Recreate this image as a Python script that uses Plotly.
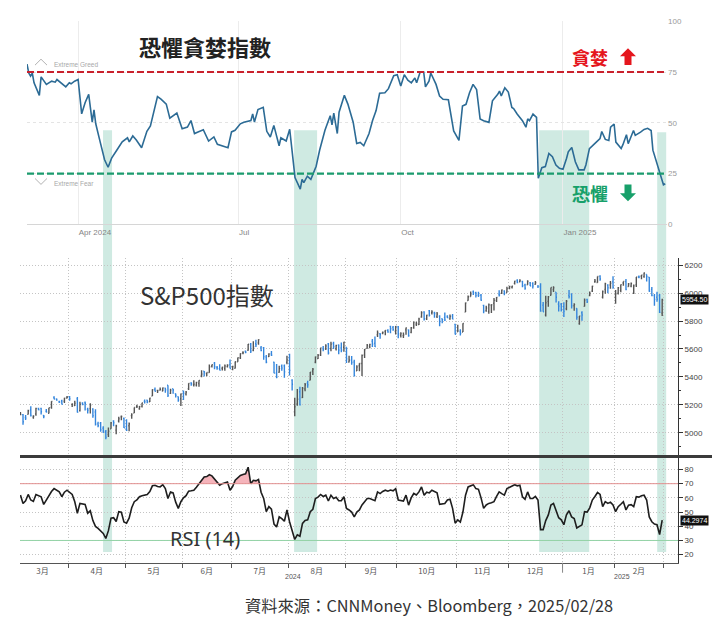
import numpy as np
import pandas as pd
import plotly.graph_objects as go

W, H = 725, 628
def px(x): return x / W
def py(y): return 1 - y / H

# ---------------- CNN Fear & Greed index ----------------
fg_dates = [
 "2024-03-03","2024-03-04","2024-03-05","2024-03-06","2024-03-07","2024-03-10","2024-03-11","2024-03-14",
 "2024-03-17","2024-03-19","2024-03-20","2024-03-22","2024-03-25","2024-03-27","2024-03-28","2024-03-30",
 "2024-04-01","2024-04-03","2024-04-05","2024-04-07","2024-04-09","2024-04-10","2024-04-11","2024-04-13",
 "2024-04-16","2024-04-18","2024-04-20","2024-04-23","2024-04-26","2024-04-29","2024-04-30","2024-05-02",
 "2024-05-04","2024-05-07","2024-05-10","2024-05-12","2024-05-16","2024-05-18","2024-05-21","2024-05-23",
 "2024-05-25","2024-05-27","2024-05-30","2024-06-02","2024-06-04","2024-06-06","2024-06-08","2024-06-11",
 "2024-06-14","2024-06-17","2024-06-19","2024-06-22","2024-06-25","2024-06-27","2024-06-29","2024-07-02",
 "2024-07-04","2024-07-08","2024-07-09","2024-07-10","2024-07-12","2024-07-15","2024-07-17","2024-07-19",
 "2024-07-21","2024-07-24","2024-07-25","2024-07-28","2024-07-30","2024-08-01","2024-08-02","2024-08-05",
 "2024-08-06","2024-08-07","2024-08-09","2024-08-11","2024-08-14","2024-08-16","2024-08-19","2024-08-21",
 "2024-08-22","2024-08-23","2024-08-24","2024-08-26","2024-08-27","2024-08-30","2024-09-01","2024-09-04",
 "2024-09-06","2024-09-08","2024-09-10","2024-09-13","2024-09-15","2024-09-17","2024-09-19","2024-09-22",
 "2024-09-24","2024-09-27","2024-09-29","2024-10-01","2024-10-03","2024-10-05","2024-10-07","2024-10-09",
 "2024-10-10","2024-10-12","2024-10-14","2024-10-15","2024-10-17","2024-10-18","2024-10-21","2024-10-23",
 "2024-10-25","2024-10-28","2024-10-31","2024-11-03","2024-11-05","2024-11-07","2024-11-09","2024-11-11",
 "2024-11-13","2024-11-15","2024-11-17","2024-11-20","2024-11-22","2024-11-25","2024-11-26","2024-11-27",
 "2024-11-29","2024-12-01","2024-12-03","2024-12-04","2024-12-06","2024-12-09","2024-12-11","2024-12-12",
 "2024-12-13","2024-12-15","2024-12-17","2024-12-18","2024-12-20","2024-12-22","2024-12-24","2024-12-26",
 "2024-12-28","2024-12-30","2025-01-01","2025-01-03","2025-01-04","2025-01-06","2025-01-08","2025-01-10",
 "2025-01-13","2025-01-14","2025-01-16","2025-01-19","2025-01-22","2025-01-23","2025-01-25","2025-01-27",
 "2025-01-28","2025-01-30","2025-01-31","2025-02-03","2025-02-04","2025-02-06","2025-02-07","2025-02-10",
 "2025-02-11","2025-02-14","2025-02-16","2025-02-18","2025-02-20","2025-02-21","2025-02-24","2025-02-26",
 "2025-02-27","2025-02-28"]
fg_values = [
 78.9,74.5,73,74.5,69.7,63.5,72.6,68.9,
 70.5,70,71.3,69.7,67.7,69.7,69.2,70.5,
 71.3,54.4,60,64,50.3,56.4,49.5,42.3,
 31.8,28.1,32.6,36.6,40.6,42.6,40.6,43.5,
 41.5,37.7,45.8,48.4,62.9,61.6,59.2,52.3,
 53.5,54.8,47.1,47.9,51.1,44.7,45.5,46.6,
 41,43,39.4,38.7,37.7,45.5,46.3,49.5,
 50.3,51.1,54.4,50.3,56.5,57.6,45.8,43,
 48.7,38.7,42.6,41,46.8,31,23,17.3,
 22.1,20.5,23.7,22.1,28.6,36.6,46.3,51.1,
 53.5,49,54.8,44.7,55.2,63.5,59.2,50.3,
 39.8,40.3,38.7,44.7,51.1,56,64.5,64.8,
 66.8,73.2,73.7,68.1,73.7,71,69.7,72.1,
 69.7,75,75,67.7,70.5,74.5,68.9,63.2,
 61.6,61.3,46,41.3,58.3,59.1,64.8,68.9,
 66.4,51.9,51,50.2,60.8,64,65.6,63.2,
 67.2,65.1,57.5,57,54.3,51,47.8,51.9,
 51,54.3,52.7,22.7,27.9,28.4,34.9,33.3,
 29.2,27.6,27.1,32.4,35.7,37.8,30.8,26.8,
 26.8,29.2,37.3,39.7,42.2,45.7,41.8,41.3,
 47.8,49.4,40.5,37.3,39.2,44.1,39.7,46.2,
 43.8,45.4,46.7,47.3,46.2,36.5,27.6,22,
 19.5,20]
fg_ticks = ["2024-04-01", "2024-07-01", "2024-10-01", "2025-01-01"]
fg_ticktext = ["Apr 2024", "Jul", "Oct", "Jan 2025"]

# ---------------- S&P 500 daily bars (2024-03-04 .. 2025-02-28) ----------------
holidays = ["2024-03-29","2024-05-27","2024-06-19","2024-07-04","2024-09-02","2024-11-28",
            "2024-12-25","2025-01-01","2025-01-09","2025-01-20","2025-02-17"]

sp_open = [
 5130,5130,5109,5132,5164, 5112,5134,5174,5175,5124, 5154,5139,5182,5254,5242, 5220,5228,5226,5249,
 5258,5204,5195,5244,5158, 5212,5217,5168,5173,5171, 5149,5064,5068,5032,5005, 4988,5028,5084,5019,5084, 5114,5103,
 5030,5050,5123, 5142,5188,5172,5189,5226, 5233,5222,5263,5310,5303, 5305,5298,5320,5340,5282, 5315,5279,5259,5244,
 5298,5278,5315,5357,5344, 5341,5353,5410,5441,5424, 5431,5477,5499,5467, 5459,5461,5460,5474,5488,
 5471,5462,5508,5537, 5572,5584,5591,5635,5591, 5638,5644,5610,5609,5543, 5545,5565,5505,5428,5433, 5476,5479,5505,
 5537,5377, 5151,5206,5294,5253,5313, 5355,5376,5442,5505,5531, 5557,5603,5603,5637,5603, 5639,5602,5629,5607,5612,
 5612,5507,5520,5507, 5443,5480,5496,5557,5604, 5615,5655,5641,5702,5709, 5713,5727,5733,5762,5755, 5727,
 5758,5698,5696,5737, 5737,5719,5751,5778,5775, 5829,5866,5816,5875,5859, 5858,5833,5835,5817,5826, 5833,5815,5835,5776,
 5723, 5725,5722,5864,5947,5976, 6009,6003,5986,5985,5912, 5875,5868,5914,5927,5948, 5993,6000,6014,6004,
 6040,6042,6070,6090,6081, 6083,6058,6060,6074,6069, 6063,6052,6047,5913,5843, 5941,5985, 6025,6007, 5921,5920,
 5903,5888, 5983,5993,5910,5890, 5782,5859,5905,5954,5983, 6015,6082,6076,6121, 5970,6027,6058,6058,6082,
 5970,5999,6020,6073,6083, 6047,6050,6001,6060,6116, 6121,6118,6134,6114, 6027,5982,5971,5982,5857]
sp_high = [
 5149,5134,5127,5165,5189, 5125,5180,5180,5180,5128, 5170,5180,5225,5261,5246, 5230,5236,5250,5264,
 5264,5208,5229,5257,5222, 5219,5224,5179,5211,5176, 5168,5079,5077,5046,5019, 5038,5077,5089,5057,5114, 5123,5110,
 5096,5073,5140, 5181,5200,5191,5215,5239, 5237,5250,5311,5325,5306, 5325,5324,5323,5341,5315, 5315,5282,5260,5281,
 5302,5299,5355,5362,5376, 5366,5376,5447,5442,5432, 5489,5489,5506,5478, 5490,5472,5489,5490,5524,
 5480,5510,5539,5570, 5583,5590,5636,5642,5655, 5666,5669,5622,5615,5557, 5570,5585,5509,5492,5480, 5488,5489,5551,
 5566,5384, 5250,5313,5330,5327,5356, 5372,5436,5464,5547,5564, 5608,5621,5633,5643,5651, 5652,5631,5632,5647,5651,
 5613,5552,5550,5523, 5484,5498,5561,5600,5636, 5637,5671,5690,5733,5715, 5725,5735,5741,5767,5765, 5765,
 5765,5720,5718,5753, 5740,5757,5796,5795,5823, 5871,5870,5846,5879,5878, 5866,5864,5842,5818,5862, 5842,5847,5851,5781,
 5773, 5741,5784,5932,5983,6012, 6018,6009,6009,5993,5916, 5909,5925,5921,5965,5973, 6021,6026,6020,6045,
 6053,6053,6089,6099,6100, 6089,6068,6093,6079,6078, 6086,6057,6070,5936,5982, 5979,6040, 6049,6007, 5941,5929,
 5935,5950, 6022,6000,5927,5891, 5836,5871,5961,5960,6011, 6052,6101,6119,6128, 6018,6074,6063,6087,6121,
 6023,6043,6062,6084,6101, 6073,6076,6062,6116,6127, 6129,6147,6134,6115, 6043,5993,6010,5993,5960]
sp_low = [
 5127,5057,5091,5131,5117, 5100,5122,5161,5131,5104, 5146,5138,5172,5240,5229, 5216,5203,5213,5246,
 5229,5184,5192,5146,5153, 5197,5160,5138,5138,5107, 5052,5040,5007,4998,4953, 4969,5028,5047,4990,5074, 5089,5035,
 5013,5011,5101, 5142,5178,5165,5181,5209, 5211,5220,5263,5296,5284, 5302,5297,5287,5257,5278, 5280,5253,5223,5192,
 5234,5266,5307,5336,5331, 5331,5330,5397,5403,5404, 5430,5468,5455,5452, 5447,5446,5445,5468,5460,
 5448,5460,5508,5529, 5562,5569,5587,5571,5583, 5614,5631,5584,5522,5497, 5542,5550,5427,5390,5429, 5444,5394,5491,
 5410,5303, 5119,5193,5195,5249,5298, 5322,5376,5413,5497,5528, 5550,5584,5592,5560,5584, 5599,5590,5562,5576,5581,
 5500,5503,5487,5403, 5442,5441,5406,5536,5601, 5605,5614,5615,5686,5674, 5705,5698,5716,5712,5730, 5704,
 5676,5683,5678,5702, 5687,5713,5745,5765,5772, 5824,5804,5808,5833,5847, 5824,5821,5762,5784,5800, 5822,5809,5813,5703,
 5723, 5696,5722,5864,5946,5976, 5986,5968,5973,5945,5855, 5866,5853,5858,5875,5937, 5976,5993,5984,6004,
 6027,6033,6062,6070,6077, 6042,6024,6060,6051,6034, 6060,6036,5867,5867,5833, 5903,5983, 6008,5932, 5869,5869,
 5829,5877, 5961,5890,5874,5809, 5773,5802,5905,5930,5978, 6008,6075,6075,6089, 5962,5995,6000,6032,6031,
 5924,5990,6007,6052,6020, 6045,6042,5993,6044,6107, 6099,6111,6084,6009, 5978,5909,5938,5858,5837]
sp_close = [
 5131,5079,5105,5157,5124, 5118,5175,5165,5150,5117, 5149,5179,5225,5242,5234, 5218,5204,5248,5254,
 5244,5206,5211,5147,5204, 5202,5210,5161,5199,5123, 5062,5051,5022,5011,4967, 5011,5071,5072,5048,5100, 5116,5036,
 5018,5064,5128, 5181,5188,5188,5214,5223, 5221,5247,5308,5297,5303, 5308,5321,5307,5268,5305, 5306,5267,5235,5278,
 5283,5291,5354,5353,5347, 5361,5375,5421,5434,5432, 5473,5487,5473,5465, 5448,5469,5478,5483,5460,
 5475,5509,5537,5567, 5573,5577,5634,5585,5615, 5631,5667,5588,5545,5505, 5564,5556,5427,5399,5459, 5464,5436,5522,
 5447,5347, 5186,5240,5200,5319,5344, 5344,5434,5455,5543,5554, 5608,5597,5621,5571,5635, 5617,5626,5592,5592,5648,
 5529,5520,5503,5408, 5471,5496,5554,5596,5626, 5633,5635,5618,5714,5703, 5719,5733,5722,5745,5738, 5762,
 5709,5710,5700,5751, 5696,5751,5792,5780,5815, 5860,5815,5842,5841,5865, 5854,5851,5797,5810,5808, 5824,5833,5814,5705,
 5729, 5713,5783,5929,5973,5996, 6001,5984,5985,5949,5871, 5894,5917,5917,5949,5969, 5987,6022,5999,6032,
 6047,6050,6086,6075,6090, 6053,6035,6084,6051,6051, 6074,6051,5872,5867,5931, 5974,6040, 6038,5971, 5907,5882,
 5869,5942, 5975,5909,5918,5827, 5836,5843,5950,5937,5997, 6049,6086,6119,6101, 6012,6068,6039,6071,6041,
 5995,6038,6061,6084,6026, 6066,6069,6052,6115,6115, 6130,6144,6118,6013, 5983,5955,5956,5862,5954.5]

# ---------------- RSI(14), read per trading day ----------------
rsi = [
 62,56,58,62.4,58.5, 57.5,62.4,61.5,60.8,55.4, 58.5,62.4,64.5,66.5,65.5, 64.2,60.8,64,65.4,
 64,62.4,57.3,49.2,56.1, 55.5,55.4,49.2,50.9,44, 39.9,38.5,36.5,35,31.4, 36.9,45.7,46,43.4,50.3, 49.9,43,
 42.2,45.7,53, 57.3,58.5,60.8,61.5,62, 62.4,64.5,68.5,68.9,68, 67.7,69.3,66.5,59.6,64.2, 63.5,57,52.6,57.3,
 60,61.5,64.7,65,65.4, 67.5,70,73,74.7,75, 76.3,75.5,73.5,71.5, 68.9,70,70.5,71.2,65.4,
 68,72.4,74,75.8, 76.5,77,81.6,70,72.4, 72,73,64,59.6,50.3, 53.8,52,41.5,39.5,46.6, 45.4,43.5,51.5,
 43.2,36.5, 30.7,34,33,42,44.1, 44.5,50.3,52,59.6,60.5, 62.4,61,61.9,57.8,61.9, 59.6,60.5,58,58,60.8,
 52.5,51.5,50,46.6, 50,51.5,55,57.3,59.6, 59.6,58.5,58,64.2,63, 64.5,65.4,64.7,65.5,65, 66.5,
 58.5,58.3,57.8,61.9, 54.9,60,63.1,62,64.2, 67.7,61.9,64,63.5,65.4, 64.7,63.5,55.4,56,56.1, 58.5,59,52.6,42.2,
 44.5, 42.9,50,61.9,67.7,68.8, 69.3,66.5,66,60,52.6, 55,56.1,56.5,57.3,61, 64.2,63,61.9,66.5,
 67.5,68.9,69.3,68.5,68.9, 60.8,59,64.2,59.6,59.6, 61,58.5,37.6,37.6,44, 48,55, 56.1,50.3, 46,44.5,
 41.1,48, 50.9,46.6,45.4,38.8, 39.9,41,50.3,50,53, 58.5,61,63.8,62.4, 53.8,57.3,56.1,57,55,
 50.3,53.8,55.5,57.3,51.5, 54.9,55.2,53.8,60.8,60.5, 61.5,61.9,58.5,46.6, 43.2,41.5,41.1,34.2,44.2974]
month_labels = ["3月","4月","5月","6月","7月","8月","9月","10月","11月","12月","1月","2月"]
price_ticks = [5000, 5200, 5400, 5600, 5800, 6000, 6200]
price_minor = [4900, 5100, 5300, 5500, 5700, 5900, 6100]
rsi_ticks = [20, 30, 40, 50, 60, 70, 80]

# ---------------- trading calendar ----------------
hol = pd.to_datetime(holidays)
days_full = pd.bdate_range("2024-03-01", "2025-03-14")
days_full = days_full[~days_full.isin(hol)]
bar_days = days_full[(days_full >= "2024-03-04") & (days_full <= "2025-02-28")]
n = len(bar_days)
for name, arr in [("open", sp_open), ("high", sp_high), ("low", sp_low), ("close", sp_close), ("rsi", rsi)]:
    if len(arr) != n:
        raise SystemExit(f"{name} has {len(arr)} values, expected {n}")
bar_x = [(d + pd.Timedelta(hours=12)).strftime("%Y-%m-%d %H:%M") for d in bar_days]

fmt = lambda t: t.strftime("%Y-%m-%d %H:%M:%S")
bounds, mids = [], []
mlist = pd.period_range("2024-03", "2025-02", freq="M")
for m in mlist:
    idx = np.where(days_full.to_period("M") == m)[0]
    a, b = idx[0], idx[-1] + 1
    bounds.append(fmt(days_full[a]))
    mid = (a + b) / 2
    mids.append(fmt(days_full[int(mid)] + pd.Timedelta(days=mid - int(mid))))
bounds.append(fmt(days_full[b]))
xr = [fmt(days_full[1] + pd.Timedelta(days=0.333)), fmt(days_full[255] + pd.Timedelta(days=0.61))]
rb = [dict(bounds=["sat", "mon"]), dict(values=holidays)]

# ---------------- figure ----------------
fig = go.Figure()
fig.add_trace(go.Scatter(x=fg_dates, y=fg_values, mode="lines", xaxis="x", yaxis="y",
                         line=dict(color="#2c6b95", width=1.6), hoverinfo="skip"))
fig.add_trace(go.Ohlc(x=bar_x, open=sp_open, high=sp_high, low=sp_low, close=sp_close,
                      xaxis="x2", yaxis="y2", tickwidth=0.35, hoverinfo="skip",
                      increasing=dict(line=dict(color="#555555", width=1.4)),
                      decreasing=dict(line=dict(color="#3586dc", width=1.4))))
fig.add_trace(go.Scatter(x=bar_x, y=[70] * n, mode="lines", xaxis="x3", yaxis="y3",
                         line=dict(width=0), hoverinfo="skip"))
fig.add_trace(go.Scatter(x=bar_x, y=np.maximum(np.array(rsi), 70), mode="lines", xaxis="x3", yaxis="y3",
                         line=dict(width=0), fill="tonexty", fillcolor="rgba(240,140,150,0.65)", hoverinfo="skip"))
fig.add_trace(go.Scatter(x=bar_x, y=rsi, mode="lines", xaxis="x3", yaxis="y3",
                         line=dict(color="#1e1e1e", width=1.6), hoverinfo="skip"))

grid_dot = "#c4c4c4"
gdash = "1px,2px"
small = dict(family="Liberation Sans, Arial, sans-serif", size=8, color="#444")
fig.update_layout(
    width=W, height=H, margin=dict(l=0, r=0, t=0, b=0),
    paper_bgcolor="white", plot_bgcolor="rgba(0,0,0,0)", showlegend=False,
    font=dict(family="Liberation Sans, Arial, sans-serif", color="#444"),
    xaxis=dict(domain=[px(27), px(667)], anchor="y", type="date", range=["2024-03-03", "2025-03-01"],
               tickmode="array", tickvals=fg_ticks, ticktext=fg_ticktext, ticklabelposition="outside right",
               ticks="", showgrid=True, gridcolor="#ececec", showline=True, linecolor="#d6d6d6",
               zeroline=False, tickfont=dict(family="Liberation Sans, Arial", size=8, color="#858585")),
    yaxis=dict(domain=[py(223.5), py(17.5)], anchor="x", range=[0, 100], side="right",
               tickvals=[0, 25, 50, 75, 100], ticks="", showgrid=True, gridcolor="#e4e4e4", griddash="dot",
               zeroline=False, tickfont=dict(family="Liberation Sans, Arial", size=8, color="#9a9a9a")),
    xaxis2=dict(domain=[px(20), px(678)], anchor="y2", type="date", range=xr, rangebreaks=rb,
                showticklabels=False, ticks="", showgrid=False, zeroline=False,
                rangeslider=dict(visible=False),
                minor=dict(tickmode="array", tickvals=bounds, ticks="", showgrid=True,
                           gridcolor=grid_dot, griddash=gdash, gridwidth=1)),
    yaxis2=dict(domain=[py(459), py(258)], anchor="x2", range=[4830.6, 6249.4], side="right",
                tickvals=price_ticks, ticks="outside", ticklen=4, tickcolor="#333", showline=True,
                linecolor="#333", showgrid=True, gridcolor=grid_dot, griddash=gdash, zeroline=False,
                tickfont=small,
                minor=dict(tickmode="array", tickvals=price_minor, ticks="outside", ticklen=2,
                           tickcolor="#333", showgrid=False)),
    xaxis3=dict(domain=[px(20), px(678)], anchor="y3", type="date", range=xr, rangebreaks=rb,
                tickmode="array", tickvals=mids, ticktext=month_labels, ticks="", showgrid=False,
                showline=True, linecolor="#555", zeroline=False,
                tickfont=dict(family="Noto Sans CJK TC, sans-serif", size=8, color="#555"),
                minor=dict(tickmode="array", tickvals=bounds, ticks="outside", ticklen=4, tickcolor="#555",
                           showgrid=True, gridcolor=grid_dot, griddash=gdash, gridwidth=1)),
    yaxis3=dict(domain=[py(567.3), py(459)], anchor="x3", range=[14, 89.2], side="right",
                tickvals=rsi_ticks, ticks="outside", ticklen=4, tickcolor="#333", showline=True,
                linecolor="#333", showgrid=True, gridcolor=grid_dot, griddash=gdash, zeroline=False,
                tickfont=small),
)

def to_path(points, close=True):
    s = "M " + " L ".join(f"{px(x):.5f},{py(y):.5f}" for x, y in points)
    return s + (" Z" if close else "")

def block_arrow(cx, tip, up):
    s = 1 if up else -1
    pts = [(cx, tip), (cx - 8, tip + 8 * s), (cx - 3.5, tip + 8 * s), (cx - 3.5, tip + 17 * s),
           (cx + 3.5, tip + 17 * s), (cx + 3.5, tip + 8 * s), (cx + 8, tip + 8 * s)]
    return to_path(pts)

shapes = []
band_col = "rgba(95,185,160,0.30)"
bands = [("2024-04-15 03:00", "2024-04-20 05:30", 128), ("2024-08-01 11:45", "2024-08-14 13:00", 128),
         ("2024-12-18 12:00", "2025-01-15 21:00", 128), ("2025-02-23 10:48", "2025-02-28 13:00", 130)]
for x0, x1, top in bands:
    shapes.append(dict(type="rect", xref="x", yref="paper", x0=x0, x1=x1, y0=py(556), y1=py(top),
                       fillcolor=band_col, line=dict(width=0), layer="below"))
shapes.append(dict(type="line", xref="x domain", yref="y", x0=0, x1=1, y0=75, y1=75,
                   line=dict(color="#c9202c", width=2.2, dash="7px,3px")))
shapes.append(dict(type="line", xref="x domain", yref="y", x0=0, x1=1, y0=25, y1=25,
                   line=dict(color="#1b9b6e", width=2.2, dash="7px,3px")))
shapes.append(dict(type="line", xref="x3 domain", yref="y3", x0=0, x1=1, y0=70, y1=70,
                   line=dict(color="#e39090", width=1)))
shapes.append(dict(type="line", xref="x3 domain", yref="y3", x0=0, x1=1, y0=30, y1=30,
                   line=dict(color="#93d3a6", width=1)))
shapes.append(dict(type="line", xref="paper", yref="paper", x0=px(20), x1=px(712), y0=py(459), y1=py(459),
                   line=dict(color="#3b3b3b", width=3)))
shapes.append(dict(type="line", xref="x3", yref="paper", x0=bounds[10], x1=bounds[10], y0=py(567), y1=py(577),
                   line=dict(color="#888", width=1)))
# decorative icons: greed/fear block arrows and the chevrons of the CNN labels
shapes.append(dict(type="path", xref="paper", yref="paper", path=block_arrow(628, 45, True),
                   fillcolor="#e5161d", line=dict(width=0)))
shapes.append(dict(type="path", xref="paper", yref="paper", path=block_arrow(628, 200, False),
                   fillcolor="#17a06a", line=dict(width=0)))
shapes.append(dict(type="path", xref="paper", yref="paper", path=to_path([(35, 62), (41, 56), (47, 62)], False),
                   line=dict(color="#b3b3b3", width=1)))
shapes.append(dict(type="path", xref="paper", yref="paper", path=to_path([(35, 177), (41, 183), (47, 177)], False),
                   line=dict(color="#b3b3b3", width=1)))
fig.update_layout(shapes=shapes)

cjk = "Noto Sans CJK TC, Noto Sans CJK SC, sans-serif"
ann = [
    dict(text="<b>恐懼貪婪指數</b>", x=px(205), y=py(43), font=dict(family=cjk, size=22, color="#222")),
    dict(text="<b>貪婪</b>", x=px(590), y=py(54), font=dict(family=cjk, size=18, color="#e5161d")),
    dict(text="<b>恐懼</b>", x=px(590), y=py(192), font=dict(family=cjk, size=18, color="#17a06a")),
    dict(text="Extreme Greed", x=px(52), y=py(61), xanchor="left", font=dict(size=6.5, color="#a8a8a8")),
    dict(text="Extreme Fear", x=px(52), y=py(182), xanchor="left", font=dict(size=6.5, color="#a8a8a8")),
    dict(text="S&P500指數", x=px(207), y=py(295), font=dict(family=cjk, size=24, color="#333")),
    dict(text="RSI (14)", x=px(205), y=py(542), font=dict(family="Noto Sans, sans-serif", size=20, color="#333")),
    dict(text="2024", x=px(293), y=py(581), font=dict(size=7, color="#555")),
    dict(text="2025", x=px(622), y=py(581), font=dict(size=7, color="#555")),
    dict(text="5954.50", x=px(680), y=5954.5, xref="paper", yref="y2", xanchor="left",
         bgcolor="#111", borderpad=1, font=dict(size=7, color="white")),
    dict(text="44.2974", x=px(680), y=44.2974, xref="paper", yref="y3", xanchor="left",
         bgcolor="#111", borderpad=1, font=dict(size=7, color="white")),
    dict(text="資料來源：CNNMoney、Bloomberg，2025/02/28", x=px(429), y=py(610),
         font=dict(family=cjk, size=16.3, color="#333")),
]
for a in ann:
    a.setdefault("xref", "paper")
    a.setdefault("yref", "paper")
    a.setdefault("xanchor", "center")
    a.setdefault("yanchor", "middle")
    a["showarrow"] = False
fig.update_layout(annotations=ann)

fig.write_html("out.html", config={"displayModeBar": False, "staticPlot": True},
               post_script="document.body.style.margin='0px';document.body.style.overflow='hidden';")
